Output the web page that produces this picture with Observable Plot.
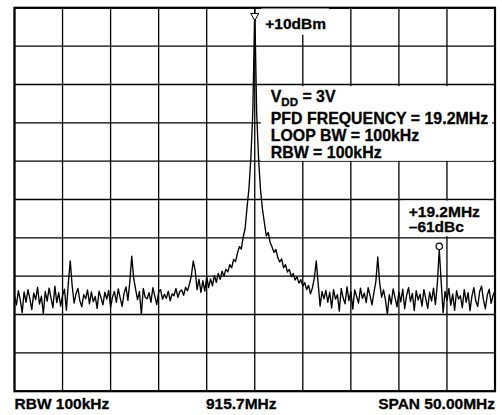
<!DOCTYPE html>
<html><head><meta charset="utf-8">
<script src="https://cdn.jsdelivr.net/npm/d3@7"></script>
<script src="https://cdn.jsdelivr.net/npm/@observablehq/plot@0.6"></script>
<style>
html,body{margin:0;padding:0;background:#fff;}
#chart svg{display:block;}
</style></head><body><div id="chart"></div>
<script>
// Sweep definition (spectrum analyser): centre 915.7MHz, span 50MHz, one point every 0.2MHz
const centerMHz = 915.7;
const startMHz = 890.7;
const stopMHz = 940.7;
const stepMHz = 0.2;

// Trace levels in dBm, one per sweep point
const traceDBm = [
 -65.0,-67.5,-63.8,-66.2,-69.5,-64.1,-66.8,-63.5,-65.9,-68.7,
 -64.4,-66.1,-62.9,-67.3,-65.2,-69.8,-64.0,-66.5,-63.1,-65.7,
 -68.2,-62.6,-66.9,-64.3,-67.8,-65.0,-63.4,-68.9,-61.8,-56.0,
 -62.5,-67.0,-64.6,-63.2,-66.4,-68.0,-64.8,-65.9,-63.6,-67.2,
 -64.1,-66.7,-65.3,-68.4,-63.9,-65.6,-67.5,-64.2,-66.0,-63.7,
 -68.1,-65.4,-64.0,-66.8,-63.3,-65.7,-67.9,-64.5,-62.8,-66.3,
 -61.5,-54.8,-60.5,-63.4,-66.1,-64.0,-70.0,-63.2,-65.5,-65.9,
 -64.3,-66.8,-63.0,-65.2,-67.4,-64.1,-63.5,-66.0,-64.7,-65.8,
 -63.9,-66.4,-64.6,-65.1,-63.2,-65.5,-64.0,-63.6,-65.0,-62.9,
 -63.8,-62.1,-60.0,-56.0,-58.5,-63.5,-60.8,-64.2,-61.2,-63.9,
 -60.1,-63.0,-60.7,-62.5,-59.8,-61.6,-59.3,-60.8,-58.7,-60.0,
 -58.2,-58.9,-57.0,-57.8,-55.6,-56.2,-54.0,-52.3,-52.9,-49.8,
 -47.5,-42.0,-37.0,-29.0,-17.0, 10.0,-17.5,-29.5,-37.5,-42.5,
 -46.0,-49.5,-48.6,-51.2,-52.4,-53.8,-53.0,-55.2,-56.3,-55.5,
 -57.8,-57.0,-58.9,-58.2,-60.1,-59.3,-61.0,-60.2,-61.8,-60.9,
 -62.6,-61.7,-63.5,-62.4,-64.6,-63.0,-60.5,-56.0,-62.0,-67.8,
 -64.0,-65.9,-63.7,-66.8,-64.2,-68.3,-63.5,-66.0,-64.8,-69.1,
 -63.2,-65.7,-67.2,-62.8,-66.4,-64.0,-68.6,-63.6,-65.3,-67.0,
 -63.1,-65.8,-64.4,-66.9,-63.0,-65.1,-67.5,-64.3,-61.5,-55.0,
 -61.8,-65.5,-63.6,-66.2,-70.0,-64.8,-67.3,-63.3,-65.6,-68.0,
 -64.1,-66.7,-63.4,-68.5,-65.0,-63.0,-66.6,-64.5,-69.0,-63.8,
 -66.2,-64.7,-67.8,-63.5,-65.9,-68.4,-64.2,-66.5,-63.1,-67.4,
 -62.0,-53.0,-61.5,-69.5,-64.0,-66.3,-63.2,-67.6,-64.6,-68.9,
 -63.8,-66.0,-65.1,-68.2,-63.5,-66.8,-64.3,-69.0,-65.2,-63.0,
 -66.5,-67.9,-64.0,-62.6,-66.2,-68.5,-64.9,-63.4,-67.1,-65.0,
 -63.8
];

// Graticule (5MHz/div, 10dB/div)
const gridFreqs = [890.7, 895.7, 900.7, 905.7, 910.7, 915.7, 920.7, 925.7, 930.7, 935.7, 940.7];
const gridLevels = [10, 0, -10, -20, -30, -40, -50, -60, -70, -80, -90];

// Marker / annotation texts
const refLevelDBm = 10;
const refLabel = "+10dBm";
const infoTop = "VDD = 3V";
const infoLines = ["PFD FREQUENCY = 19.2MHz", "LOOP BW = 100kHz", "RBW = 100kHz"];
const spurMHz = 934.9;
const spurLabels = ["+19.2MHz", "\u201361dBc"];
const bottomLabels = ["RBW 100kHz", "915.7MHz", "SPAN 50.00MHz"];

const trace = traceDBm.map((v, i) => ({f: startMHz + i * stepMHz, v}));
const spurPoint = trace.reduce((best, d) => Math.abs(d.f - spurMHz) < Math.abs(best.f - spurMHz) ? d : best);

const font = {fontFamily: "'Liberation Sans', Arial, Helvetica, sans-serif", fontWeight: "bold", fontSize: 15.5, fill: "#000", stroke: "#000", strokeWidth: 0.3};
const infoFont = {...font, fontSize: 15.9};

const chart = Plot.plot({
  width: 502,
  height: 415,
  marginLeft: 14,
  marginRight: 7.5,
  marginTop: 7.3,
  marginBottom: 24.3,
  x: {domain: [startMHz, stopMHz], axis: null},
  y: {domain: [-90, 10], axis: null},
  style: {background: "#fff", overflow: "visible"},
  marks: [
    Plot.ruleX(gridFreqs, {stroke: "#000", strokeWidth: 1.3}),
    Plot.ruleY(gridLevels, {stroke: "#000", strokeWidth: 1.3}),
    Plot.frame({stroke: "#000", strokeWidth: 2.2}),
    Plot.line(trace, {x: "f", y: "v", stroke: "#000", strokeWidth: 1.35, clip: true}),
    Plot.dot([{f: centerMHz, v: refLevelDBm}], {x: "f", y: "v", symbol: "triangle", rotate: 180, r: 3, fill: "#fff", stroke: "#000", strokeWidth: 1, dy: 8}),
    Plot.dot([spurPoint], {x: "f", y: "v", r: 3.2, fill: "#fff", stroke: "#000", strokeWidth: 1.2, dy: -3}),
    Plot.text([refLabel], {x: centerMHz, y: refLevelDBm, text: d => d, textAnchor: "start", lineAnchor: "bottom", dx: 10.5, dy: 21, ...font}),
    Plot.text([infoTop], {x: centerMHz, y: refLevelDBm, text: d => d, textAnchor: "start", lineAnchor: "bottom", dx: 16, dy: 94.4, ...infoFont}),
    Plot.text([infoLines.join("\n")], {x: centerMHz, y: refLevelDBm, text: d => d, textAnchor: "start", lineAnchor: "bottom", lineHeight: 16.7 / 15.9, dx: 16, dy: 150, ...infoFont}),
    Plot.text([spurLabels.join("\n")], {x: spurMHz, y: refLevelDBm, text: d => d, textAnchor: "start", lineAnchor: "bottom", lineHeight: 15.6 / 15.5, dx: -30.5, dy: 224.4, ...font}),
    Plot.text([bottomLabels[0]], {x: startMHz, frameAnchor: "bottom", text: d => d, textAnchor: "start", lineAnchor: "bottom", dy: 17.5, ...font}),
    Plot.text([bottomLabels[1]], {x: centerMHz, frameAnchor: "bottom", text: d => d, textAnchor: "middle", lineAnchor: "bottom", dx: -13.5, dy: 17.5, ...font}),
    Plot.text([bottomLabels[2]], {x: stopMHz, frameAnchor: "bottom", text: d => d, textAnchor: "end", lineAnchor: "bottom", dy: 17.5, ...font})
  ]
});

document.getElementById("chart").appendChild(chart);
const ns = "http://www.w3.org/2000/svg";

// Subscript "DD" in VDD
const texts = Array.from(chart.querySelectorAll('g[aria-label="text"]'));
const vddText = texts[1].querySelector("text");
vddText.textContent = "";
const t1 = document.createElementNS(ns, "tspan"); t1.textContent = "V";
const t2 = document.createElementNS(ns, "tspan"); t2.textContent = "DD"; t2.setAttribute("font-size", "11.5"); t2.setAttribute("dy", "3.5");
const t3 = document.createElementNS(ns, "tspan"); t3.textContent = " = 3V"; t3.setAttribute("dy", "-3.5");
vddText.append(t1, t2, t3);

// White label backgrounds hiding the graticule behind annotations (from rendered text extents)
const xs = chart.scale("x").range, ys = chart.scale("y").range;
const fx0 = Math.min(...xs), fx1 = Math.max(...xs), fy0 = Math.min(...ys), fy1 = Math.max(...ys);
const lineG = chart.querySelector('g[aria-label="line"]');
const svgRect = chart.getBoundingClientRect();
function addBox(groups, pad) {
  const boxes = groups.map(g => g.getBoundingClientRect());
  let x0 = Math.min(...boxes.map(b => b.left)) - svgRect.left - pad[0];
  let x1 = Math.max(...boxes.map(b => b.right)) - svgRect.left + pad[1];
  let y0 = Math.min(...boxes.map(b => b.top)) - svgRect.top - pad[2];
  let y1 = Math.max(...boxes.map(b => b.bottom)) - svgRect.top + pad[3];
  x0 = Math.max(x0, fx0 + 1.2); x1 = Math.min(x1, fx1 - 1.2);
  y0 = Math.max(y0, fy0 + 1.2); y1 = Math.min(y1, fy1 - 1.2);
  const r = document.createElementNS(ns, "rect");
  r.setAttribute("x", x0); r.setAttribute("y", y0);
  r.setAttribute("width", x1 - x0); r.setAttribute("height", y1 - y0);
  r.setAttribute("fill", "#fff");
  lineG.parentNode.insertBefore(r, lineG);
}
addBox([texts[0]], [4, 3, 10, 3]);
addBox([texts[1], texts[2]], [10, 4, 2, 0]);
addBox([texts[3]], [6, 8, 2, 1]);
</script></body></html>
